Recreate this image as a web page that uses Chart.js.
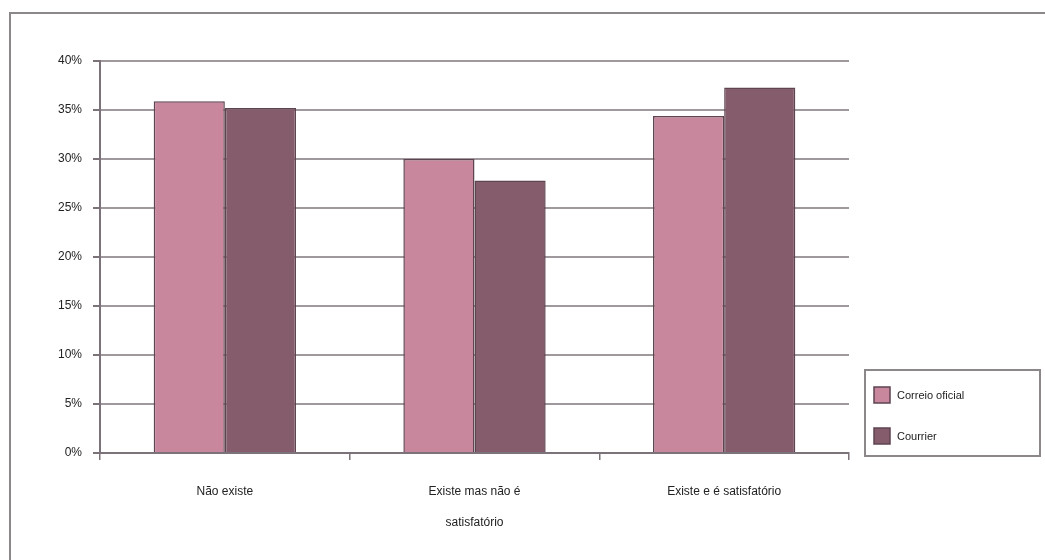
<!DOCTYPE html>
<html>
<head>
<meta charset="utf-8">
<script src="https://cdn.jsdelivr.net/npm/chart.js@4.4.0/dist/chart.umd.min.js"></script>
<style>
  html, body { margin: 0; padding: 0; background: #fff; }
  #wrap { position: absolute; left: 0; top: 0; width: 1045px; height: 560px; }
</style>
</head>
<body>
<div id="wrap"><canvas id="chart"></canvas></div>
<script>
const categories = ["Não existe", ["Existe mas não é", "satisfatório"], "Existe e é satisfatório"];
const correioOficial = [35.9, 30.0, 34.4];
const courrier = [35.2, 27.8, 37.3];
const seriesNames = ["Correio oficial", "Courrier"];
const yTicks = [0, 5, 10, 15, 20, 25, 30, 35, 40];

const COLORS = {
  correio: "#c9879e",
  courrier: "#855c6c",
  barBorder: "#5e4350",
  grid: "#9f989d",
  axis: "#7c7279",
  frame: "#8c8889",
  text: "#222222",
};

// outer frame (top + left only) and the boxed legend on the right
const framePlugin = {
  id: "frame",
  beforeDraw(chart) {
    const ctx = chart.ctx;
    ctx.save();
    ctx.strokeStyle = COLORS.frame;
    ctx.lineWidth = 2;
    ctx.beginPath();
    ctx.moveTo(10, 560);
    ctx.lineTo(10, 13);
    ctx.lineTo(1045, 13);
    ctx.stroke();
    ctx.restore();
  },
  afterDraw(chart) {
    const ctx = chart.ctx;
    ctx.save();
    ctx.strokeStyle = COLORS.frame;
    ctx.lineWidth = 2;
    ctx.strokeRect(865, 370, 175, 86);
    ctx.font = "11px 'Liberation Sans', Arial, sans-serif";
    ctx.textBaseline = "middle";
    chart.data.datasets.forEach((ds, i) => {
      const y = 395 + i * 41;
      ctx.fillStyle = ds.backgroundColor;
      ctx.fillRect(874, y - 8, 16, 16);
      ctx.strokeStyle = COLORS.barBorder;
      ctx.lineWidth = 1.5;
      ctx.strokeRect(874, y - 8, 16, 16);
      ctx.fillStyle = COLORS.text;
      ctx.fillText(ds.label, 897, y + 1);
    });
    ctx.restore();
  }
};

new Chart(document.getElementById("chart"), {
  type: "bar",
  data: {
    labels: categories,
    datasets: [
      { label: seriesNames[0], data: correioOficial, backgroundColor: COLORS.correio, borderColor: COLORS.barBorder, borderWidth: 1.5 },
      { label: seriesNames[1], data: courrier, backgroundColor: COLORS.courrier, borderColor: COLORS.barBorder, borderWidth: 1.5 },
    ]
  },
  options: {
    responsive: true,
    maintainAspectRatio: false,
    animation: false,
    datasets: { bar: { categoryPercentage: 0.57, barPercentage: 1.0 } },
    layout: { padding: { left: 0, top: 61, right: 196, bottom: 0 } },
    plugins: { legend: { display: false }, tooltip: { enabled: false } },
    scales: {
      x: {
        offset: true,
        grid: { offset: true, drawOnChartArea: false, drawTicks: true, tickLength: 7, color: COLORS.axis, lineWidth: 1.5 },
        border: { color: COLORS.axis, width: 2 },
        ticks: {
          color: COLORS.text,
          maxRotation: 0,
          padding: 16,
          font: { family: "'Liberation Sans', Arial, sans-serif", size: 12, lineHeight: 2.6 }
        },
        afterFit(scale) { scale.height = 107; }
      },
      y: {
        min: 0,
        max: 40,
        afterBuildTicks(scale) { scale.ticks = yTicks.map(v => ({ value: v })); },
        grid: { color: COLORS.grid, lineWidth: 2, tickLength: 7, tickColor: COLORS.axis },
        border: { color: COLORS.axis, width: 2 },
        ticks: {
          color: COLORS.text,
          padding: 11,
          font: { family: "'Liberation Sans', Arial, sans-serif", size: 12 },
          callback: v => v + "%"
        },
        afterFit(scale) { scale.width = 100; }
      }
    }
  },
  plugins: [framePlugin]
});
</script>
</body>
</html>
